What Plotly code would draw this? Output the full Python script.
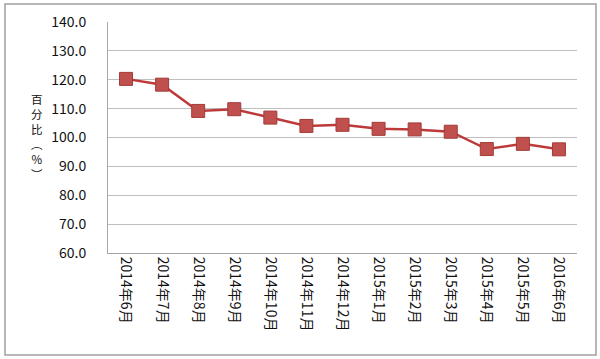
import plotly.graph_objects as go

months = ["2014年6月", "2014年7月", "2014年8月", "2014年9月", "2014年10月", "2014年11月",
          "2014年12月", "2015年1月", "2015年2月", "2015年3月", "2015年4月", "2015年5月", "2016年6月"]
values = [120.3, 118.3, 109.2, 109.8, 106.9, 104.0, 104.4, 103.0, 102.8, 102.0, 96.0, 97.8, 95.9]
y_ticks = [60, 70, 80, 90, 100, 110, 120, 130, 140]
y_title_chars = ["百", "分", "比", "︵", "%", "︶"]

font_family = "Noto Sans CJK SC, Noto Sans, sans-serif"

fig = go.Figure()
fig.add_trace(go.Scatter(
    x=months, y=values, mode="lines+markers",
    line=dict(color="#BE3A3A", width=2.5),
    marker=dict(symbol="square", size=13, color="#C0504D",
                line=dict(color="#A33B38", width=1)),
    showlegend=False, hoverinfo="x+y",
))

L, R, T, B = 108, 23, 22, 106
W, H = 600, 359
pw, ph = W - L - R, H - T - B

def px_x(p):
    return (p - L) / pw

def px_y(p):
    return (H - B - p) / ph

fig.update_layout(
    width=W, height=H,
    margin=dict(l=L, r=R, t=T, b=B),
    paper_bgcolor="white", plot_bgcolor="white",
    font=dict(family=font_family, color="#222222"),
    xaxis=dict(
        type="category", tickangle=90, showgrid=False,
        showline=True, linecolor="#A6A6A6", linewidth=1,
        ticks="", tickfont=dict(size=14, color="#111111"),
        range=[-0.5, len(months) - 0.5],
    ),
    yaxis=dict(
        range=[60, 140], tickvals=y_ticks,
        ticktext=[f"{v:.1f}" for v in y_ticks],
        showgrid=True, gridcolor="#BFBFBF", gridwidth=1,
        showline=True, linecolor="#A6A6A6", linewidth=1,
        zeroline=False, ticks="", ticklabelstandoff=18,
        tickfont=dict(size=14, color="#111111"),
    ),
    shapes=[dict(type="rect", xref="paper", yref="paper",
                 x0=px_x(5), x1=px_x(596), y0=px_y(355), y1=px_y(4),
                 line=dict(color="#A0A0A0", width=1.5), fillcolor="rgba(0,0,0,0)")],
    annotations=[dict(
        xref="paper", yref="paper", x=px_x(37), y=px_y(136),
        text="<br>".join(y_title_chars), showarrow=False,
        font=dict(size=11.5, color="#111111"),
        xanchor="center", yanchor="middle",
    )],
)

fig.write_html("out.html", config={"displayModeBar": False},
               post_script="document.body.style.margin='0';")
